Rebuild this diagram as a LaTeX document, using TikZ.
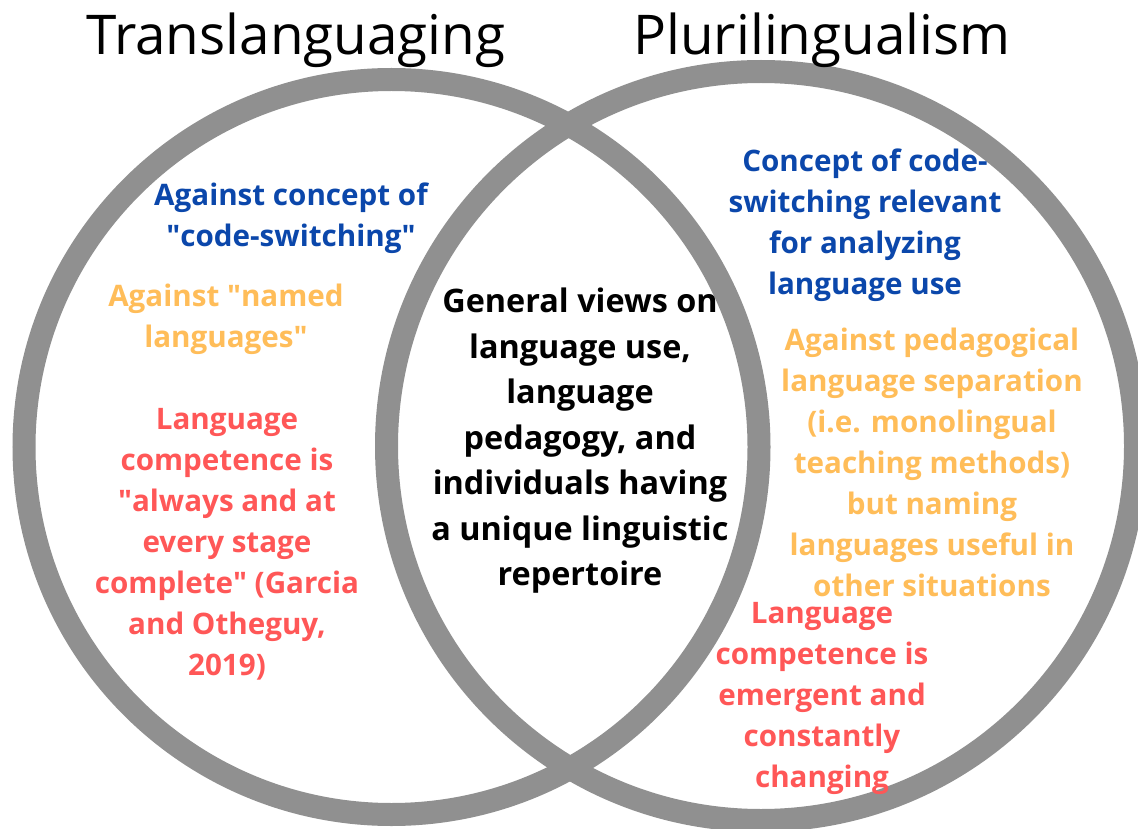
\documentclass[tikz,border=0pt]{standalone}
\usepackage{fontspec}
\setmainfont{Open Sans}
\usetikzlibrary{positioning}
\definecolor{ringgray}{HTML}{909090}
\definecolor{tlblue}{HTML}{0B47AB}
\definecolor{tlorange}{HTML}{FFBD59}
\definecolor{tlred}{HTML}{FF5757}
\newcommand{\dq}{\textquotedbl}
\tikzset{
  ring/.style={draw=ringgray, line width=23pt},
  heading/.style={font=\fontsize{54.8}{60}\selectfont, inner sep=0pt},
  sidetext/.style={font=\bfseries\fontsize{29.6}{41}\selectfont, align=center, inner sep=0pt},
  midtext/.style={font=\bfseries\fontsize{32.4}{45.5}\selectfont, align=center, inner sep=0pt}
}

\begin{document}
\begin{tikzpicture}[x=1pt, y=-1pt]
\useasboundingbox (0,0) rectangle (1138,829);
\fill[white] (0,0) rectangle (1138,829);

% the two rings
\draw[ring] (391.5,447) circle[radius=367.5pt];
\draw[ring] (761,446) circle[radius=374.5pt];

% headings
\node (transHead) [heading] at (296,40) {Translanguaging};
\node (pluriHead) [heading] at (822,40) {Plurilingualism};

% left side
\node (codeSwitchL) [sidetext, text=tlblue] at (291,218) {Against concept of\\\dq code-switching\dq};
\node (namedLang) [sidetext, text=tlorange] at (226,319) {Against \dq named\\languages\dq};
\node (competenceL) [sidetext, text=tlred] at (227,544) {Language\\competence is\\\dq always and at\\every stage\\complete\dq{} (Garcia\\and Otheguy,\\2019)};

% overlap
\node (general) [midtext] at (580,441) {General views on\\language use,\\language\\pedagogy, and\\individuals having\\a unique linguistic\\repertoire};

% right side
\node (codeSwitchR) [sidetext, text=tlblue] at (865,225) {Concept of code-\\switching relevant\\for analyzing\\language use};
\node (separation) [sidetext, text=tlorange] at (932,462) {Against pedagogical\\language separation\\(i.e. monolingual\\teaching methods)\\but naming\\languages useful in\\other situations};
\node (competenceR) [sidetext, text=tlred] at (822,698) {Language\\competence is\\emergent and\\constantly\\changing};

\end{tikzpicture}
\end{document}
